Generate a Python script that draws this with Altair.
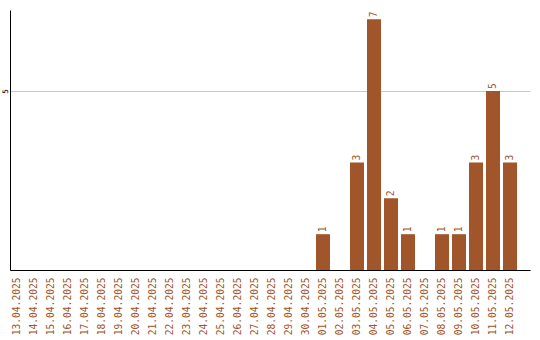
import altair as alt
import pandas as pd

dates = ["13.04.2025", "14.04.2025", "15.04.2025", "16.04.2025", "17.04.2025",
         "18.04.2025", "19.04.2025", "20.04.2025", "21.04.2025", "22.04.2025",
         "23.04.2025", "24.04.2025", "25.04.2025", "26.04.2025", "27.04.2025",
         "28.04.2025", "29.04.2025", "30.04.2025", "01.05.2025", "02.05.2025",
         "03.05.2025", "04.05.2025", "05.05.2025", "06.05.2025", "07.05.2025",
         "08.05.2025", "09.05.2025", "10.05.2025", "11.05.2025", "12.05.2025"]
values = [0, 0, 0, 0, 0, 0, 0, 0, 0, 0,
          0, 0, 0, 0, 0, 0, 0, 0, 1, 0,
          3, 7, 2, 1, 0, 1, 1, 3, 5, 3]

df = pd.DataFrame({"date": dates, "value": values})

COLOR = "#A0552A"
FONT = "DejaVu Sans Mono"

x = alt.X("date:N", sort=dates, title=None,
          scale=alt.Scale(paddingInner=0.176, paddingOuter=0.382, align=0),
          axis=alt.Axis(labelAngle=270, labelColor=COLOR, labelFont=FONT,
                        labelFontSize=9.6, ticks=False, tickSize=0, labelPadding=7,
                        domainColor="#000000", domainWidth=1, grid=False,
                        labelAlign="right", labelBaseline="middle"))
y = alt.Y("value:Q", title=None,
          scale=alt.Scale(domain=[0, 7.26], nice=False, zero=True),
          axis=alt.Axis(values=[5], labelAngle=270, labelFont=FONT, labelFontSize=7.5,
                        labelColor="#000000", ticks=False, tickSize=0, labelPadding=3,
                        labelAlign="center", labelBaseline="alphabetic",
                        domainColor="#000000", domainWidth=1,
                        grid=True, gridColor="#c8c8c8", gridWidth=1))

bars = alt.Chart(df).mark_bar(color=COLOR).encode(x=x, y=y)

text = alt.Chart(df).transform_filter("datum.value > 0").mark_text(
    angle=270, align="left", baseline="middle", dx=2,
    font=FONT, fontSize=9.6, color=COLOR
).encode(x=alt.X("date:N", sort=dates), y="value:Q", text="value:Q")

chart = alt.layer(bars, text).properties(
    width=520, height=260,
    background="#ffffff",
    autosize=alt.AutoSizeParams(type="none"),
    padding={"left": 10, "top": 10, "right": 10, "bottom": 70},
).configure_view(strokeWidth=0, stroke="transparent")

chart.save("out.html", embed_options={"renderer": "svg", "actions": False})
